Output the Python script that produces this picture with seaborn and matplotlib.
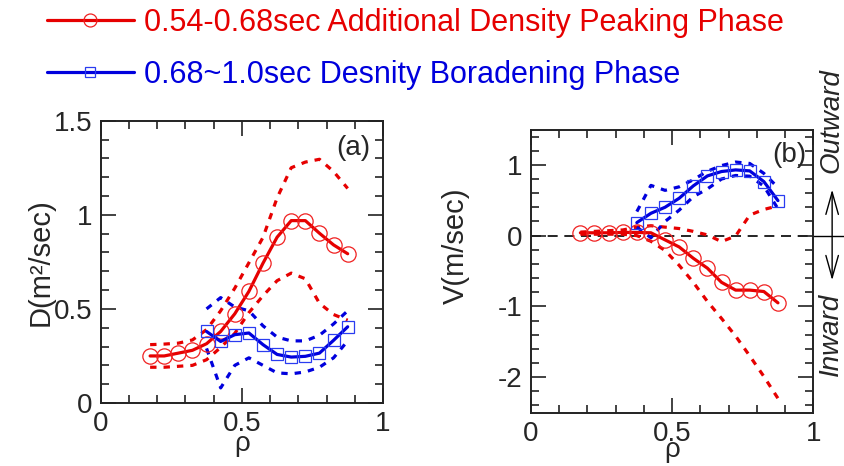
import numpy as np
import matplotlib
matplotlib.use("Agg")
import matplotlib.pyplot as plt
from matplotlib.ticker import MultipleLocator
import seaborn as sns

# rho grids
rho_red = [0.175, 0.225, 0.275, 0.325, 0.375, 0.425, 0.475, 0.525,
           0.575, 0.625, 0.675, 0.725, 0.775, 0.825, 0.875]
rho_blue = [0.375, 0.425, 0.475, 0.525, 0.575, 0.625, 0.675, 0.725,
            0.775, 0.825, 0.875]

# (a) diffusion coefficient D
D_red = [0.25, 0.25, 0.265, 0.28, 0.315, 0.38, 0.474, 0.593,
         0.743, 0.881, 0.969, 0.969, 0.902, 0.84, 0.793]
D_red_hi = [0.31, 0.313, 0.318, 0.335, 0.39, 0.49, 0.61, 0.745,
            0.88, 1.09, 1.25, 1.28, 1.295, 1.23, 1.14]
D_red_lo = [0.19, 0.19, 0.195, 0.2, 0.23, 0.295, 0.37, 0.48,
            0.57, 0.65, 0.69, 0.66, 0.53, 0.47, 0.44]
D_blue = [0.38, 0.327, 0.363, 0.372, 0.31, 0.258, 0.244, 0.248,
          0.265, 0.333, 0.405]
D_blue_hi = [0.5, 0.56, 0.51, 0.49, 0.41, 0.35, 0.33, 0.33, 0.36, 0.42, 0.49]
D_blue_lo = [0.29, 0.08, 0.2, 0.24, 0.2, 0.16, 0.155, 0.165, 0.19, 0.24, 0.33]

# (b) convection velocity V
V_red = [0.04, 0.04, 0.04, 0.045, 0.045, 0.04, -0.06, -0.16,
         -0.32, -0.46, -0.66, -0.77, -0.77, -0.79, -0.95]
V_red_hi = [0.05, 0.06, 0.07, 0.08, 0.12, 0.14, 0.12, 0.1,
            0.06, 0.01, -0.085, -0.005, 0.29, 0.37, 0.42]
V_red_lo = [0.02, 0.02, 0.02, 0.02, 0.0, -0.08, -0.21, -0.42,
            -0.66, -0.93, -1.17, -1.42, -1.7, -1.99, -2.3]
V_blue = [0.184, 0.316, 0.401, 0.528, 0.703, 0.844, 0.906, 0.929,
          0.915, 0.764, 0.495]
V_blue_hi = [0.34, 0.71, 0.64, 0.69, 0.79, 0.91, 0.99, 1.04, 1.02, 0.88, 0.68]
V_blue_lo = [0.12, -0.03, 0.2, 0.36, 0.55, 0.66, 0.8, 0.85, 0.84, 0.7, 0.38]

label_red = "0.54-0.68sec Additional Density Peaking Phase"
label_blue = "0.68~1.0sec Desnity Boradening Phase"

RED = "#e60000"
BLUE = "#0000dd"

sns.set_style("ticks")
plt.rcParams["font.family"] = ["Liberation Sans", "DejaVu Sans"]
plt.rcParams["axes.unicode_minus"] = False

fig = plt.figure(figsize=(8.45, 4.66), dpi=100)
ax_a = fig.add_axes([0.1192, 0.1352, 0.334, 0.6058])
ax_b = fig.add_axes([0.6284, 0.1148, 0.334, 0.6073])

solid = dict(linewidth=2.3, markerfacecolor="none", markeredgewidth=0.9,
             legend=False)
dash = dict(linewidth=2.3, linestyle=(0, (2, 2.2)), legend=False)


def draw(ax, r_y, r_hi, r_lo, b_y, b_hi, b_lo):
    sns.lineplot(x=rho_red, y=r_hi, color=RED, ax=ax, **dash)
    sns.lineplot(x=rho_red, y=r_lo, color=RED, ax=ax, **dash)
    sns.lineplot(x=rho_blue, y=b_hi, color=BLUE, ax=ax, **dash)
    sns.lineplot(x=rho_blue, y=b_lo, color=BLUE, ax=ax, **dash)
    sns.lineplot(x=rho_red, y=r_y, color=RED, marker="o", markersize=11,
                 markeredgecolor="#f02020", label=label_red, ax=ax, **solid)
    sns.lineplot(x=rho_blue, y=b_y, color=BLUE, marker="s", markersize=8,
                 markeredgecolor="#2a3cf0", label=label_blue, ax=ax, **solid)


draw(ax_a, D_red, D_red_hi, D_red_lo, D_blue, D_blue_hi, D_blue_lo)
draw(ax_b, V_red, V_red_hi, V_red_lo, V_blue, V_blue_hi, V_blue_lo)

ax_b.axhline(0, color="black", linewidth=1.2, linestyle=(0, (6, 4)), zorder=0)

for ax in (ax_a, ax_b):
    ax.set_xlim(0, 1)
    ax.xaxis.set_major_locator(MultipleLocator(0.5))
    ax.xaxis.set_minor_locator(MultipleLocator(0.1))
    ax.xaxis.set_major_formatter(plt.FuncFormatter(lambda v, p: f"{v:g}"))
    ax.tick_params(which="both", direction="in", top=True, right=True,
                   labelsize=20, color="#222222", pad=6)
    ax.tick_params(which="major", length=11, width=1.2)
    ax.tick_params(which="minor", length=5.5, width=1.2)
    for s in ax.spines.values():
        s.set_linewidth(1.4)
        s.set_color("#222222")
    ax.set_xlabel("ρ", fontsize=20, labelpad=0)

ax_a.set_ylim(0, 1.5)
ax_a.yaxis.set_major_locator(MultipleLocator(0.5))
ax_a.yaxis.set_minor_locator(MultipleLocator(0.1))
ax_a.yaxis.set_major_formatter(plt.FuncFormatter(lambda v, p: f"{v:g}"))
ax_a.set_ylabel("D(m²/sec)", fontsize=21)
ax_a.yaxis.set_label_coords(-0.165, 0.5)
ax_a.xaxis.set_label_coords(0.5, -0.1)
ax_a.text(0.895, 0.905, "(a)", transform=ax_a.transAxes, fontsize=20,
          ha="center", va="center")

ax_b.set_ylim(-2.5, 1.5)
ax_b.yaxis.set_major_locator(MultipleLocator(1))
ax_b.yaxis.set_minor_locator(MultipleLocator(0.2))
ax_b.yaxis.set_major_formatter(plt.FuncFormatter(lambda v, p: f"{v:g}"))
ax_b.set_ylabel("V(m/sec)", fontsize=21)
ax_b.yaxis.set_label_coords(-0.215, 0.59)
ax_b.xaxis.set_label_coords(0.5, -0.087)
ax_b.text(0.917, 0.91, "(b)", transform=ax_b.transAxes, fontsize=20,
          ha="center", va="center")

# direction marker on the right of (b)
tr = ax_b.get_yaxis_transform()
ax_b.plot([1.0, 1.11], [0, 0], color="black", linewidth=1.0,
          transform=tr, clip_on=False)
ax_b.annotate("", xy=(1.067, 0.69), xytext=(1.067, -0.67), xycoords=tr,
              textcoords=tr,
              arrowprops=dict(arrowstyle="<->,head_length=1.6,head_width=0.45",
                              color="black", linewidth=1.0))
ax_b.text(1.064, 1.62, "Outward", transform=tr, rotation=90, style="italic",
          fontsize=20, ha="center", va="center", clip_on=False)
ax_b.text(1.064, -1.39, "Inward", transform=tr, rotation=90, style="italic",
          fontsize=20, ha="center", va="center", clip_on=False)

handles, labels = ax_a.get_legend_handles_labels()
leg = fig.legend(handles, labels, loc="upper left",
                 bbox_to_anchor=(0.0465, 1.0), frameon=False, fontsize=22,
                 handlelength=2.85, handletextpad=0.33, labelspacing=0.72,
                 markerscale=0.85, labelcolor="linecolor",
                 borderaxespad=0.15, borderpad=0.1)

fig.savefig("out.png", dpi=100)
